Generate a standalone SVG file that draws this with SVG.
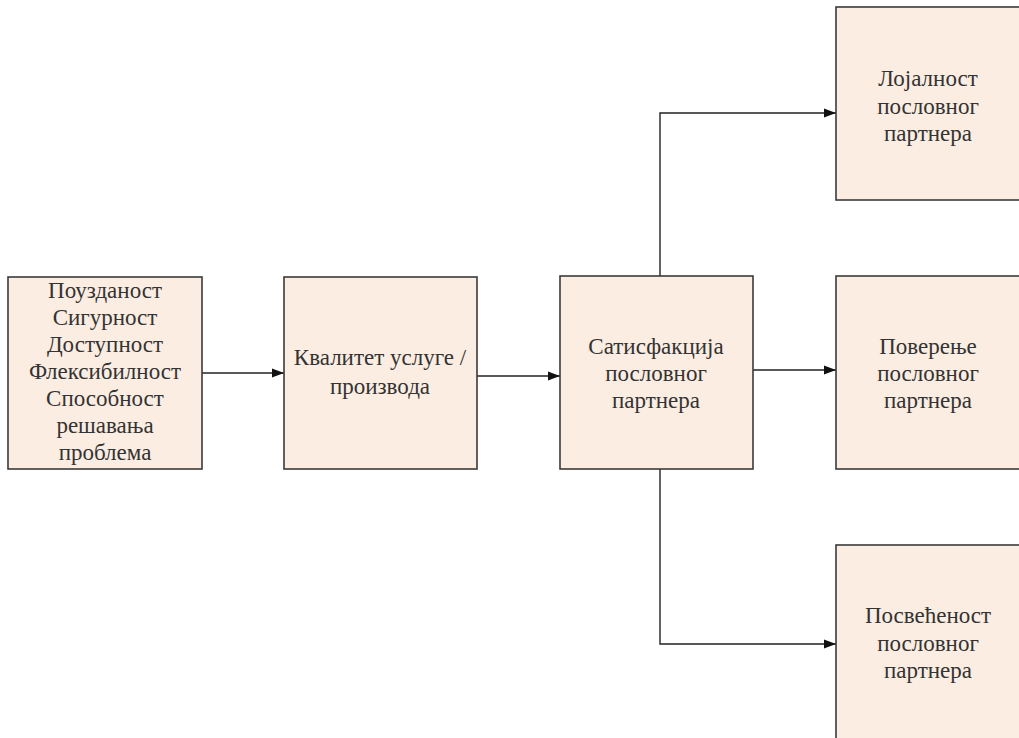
<svg xmlns="http://www.w3.org/2000/svg" width="1019" height="738" viewBox="0 0 1019 738">
<style>
.box{fill:#FCEDE2;stroke:#3a3a3a;stroke-width:1.6}
.t{font-family:"Liberation Serif","DejaVu Serif",serif;font-size:23px;fill:#333;text-anchor:middle}
.c{fill:none;stroke:#222;stroke-width:1.4}
</style>
<defs>
<marker id="ah" viewBox="0 0 12 10" refX="12" refY="5" markerWidth="12" markerHeight="10" markerUnits="userSpaceOnUse" orient="auto">
<path d="M0,0.5 L12,5 L0,9.5 Z" fill="#111"/>
</marker>
</defs>
<rect width="1019" height="738" fill="#fff"/>
<g id="connectors">
<line class="c" x1="202" y1="373" x2="284" y2="373" marker-end="url(#ah)"/>
<line class="c" x1="477" y1="376" x2="560" y2="376" marker-end="url(#ah)"/>
<line class="c" x1="753" y1="370" x2="836" y2="370" marker-end="url(#ah)"/>
<polyline class="c" points="660,276 660,113 836,113" marker-end="url(#ah)"/>
<polyline class="c" points="660,469 660,644 836,644" marker-end="url(#ah)"/>
</g>
<g id="n1">
<rect class="box" x="8" y="277" width="194" height="192"/>
<text class="t" x="105" y="298">Поузданост</text>
<text class="t" x="105" y="325">Сигурност</text>
<text class="t" x="105" y="352">Доступност</text>
<text class="t" x="105" y="379">Флексибилност</text>
<text class="t" x="105" y="406">Способност</text>
<text class="t" x="105" y="433">решавања</text>
<text class="t" x="105" y="460">проблема</text>
</g>
<g id="n2">
<rect class="box" x="284" y="277" width="193" height="192"/>
<text class="t" x="380" y="365">Квалитет услуге /</text>
<text class="t" x="380" y="394">производа</text>
</g>
<g id="n3">
<rect class="box" x="560" y="276" width="193" height="193"/>
<text class="t" x="656" y="354">Сатисфакција</text>
<text class="t" x="656" y="381">пословног</text>
<text class="t" x="656" y="408">партнера</text>
</g>
<g id="n4">
<rect class="box" x="836" y="7" width="190" height="193"/>
<text class="t" x="928" y="86">Лојалност</text>
<text class="t" x="928" y="114">пословног</text>
<text class="t" x="928" y="141">партнера</text>
</g>
<g id="n5">
<rect class="box" x="836" y="276" width="190" height="193"/>
<text class="t" x="928" y="354">Поверење</text>
<text class="t" x="928" y="381">пословног</text>
<text class="t" x="928" y="408">партнера</text>
</g>
<g id="n6">
<rect class="box" x="836" y="545" width="190" height="200"/>
<text class="t" x="928" y="623">Посвећеност</text>
<text class="t" x="928" y="651">пословног</text>
<text class="t" x="928" y="678">партнера</text>
</g>
</svg>
